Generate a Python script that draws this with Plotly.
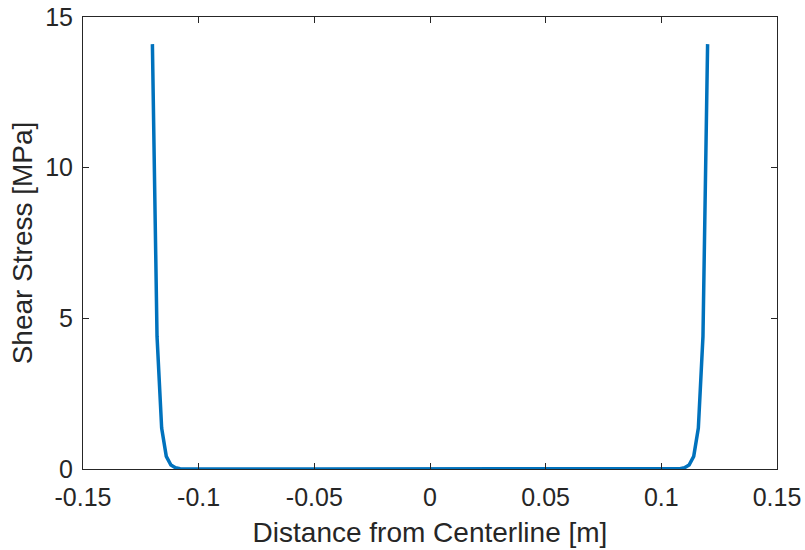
import plotly.graph_objects as go

# Distance from centerline [m]
x_vals = [-0.120, -0.118, -0.116, -0.114, -0.112, -0.110, -0.108, -0.106, -0.104,
          -0.100, -0.050, 0.000, 0.050, 0.100,
          0.104, 0.106, 0.108, 0.110, 0.112, 0.114, 0.116, 0.118, 0.120]
# Shear stress [MPa]
stress = [14.1, 4.4, 1.36, 0.42, 0.13, 0.04, 0.012, 0.004, 0.001,
          0.0, 0.0, 0.0, 0.0, 0.0,
          0.001, 0.004, 0.012, 0.04, 0.13, 0.42, 1.36, 4.4, 14.1]

x_ticks = [-0.15, -0.1, -0.05, 0, 0.05, 0.1, 0.15]
x_tick_labels = ["-0.15", "-0.1", "-0.05", "0", "0.05", "0.1", "0.15"]
y_ticks = [0, 5, 10, 15]
y_tick_labels = ["0", "5", "10", "15"]

axis_color = "#262626"
font_family = "Liberation Sans, Arial, sans-serif"

fig = go.Figure()
fig.add_trace(go.Scatter(x=x_vals, y=stress, mode="lines",
                         line=dict(color="#0072BD", width=3.5),
                         showlegend=False))

common = dict(showgrid=False, zeroline=False, showline=True, linecolor=axis_color,
              linewidth=1, mirror="allticks", ticks="inside", ticklen=6,
              tickcolor=axis_color, tickwidth=1,
              tickfont=dict(family=font_family, size=25, color=axis_color))

fig.update_xaxes(range=[-0.15, 0.15], tickvals=x_ticks, ticktext=x_tick_labels,
                 ticklabelstandoff=6,
                 title=dict(text="Distance from Centerline [m]", standoff=12,
                            font=dict(family=font_family, size=28, color=axis_color)),
                 **common)
fig.update_yaxes(range=[0, 15], tickvals=y_ticks, ticktext=y_tick_labels,
                 ticklabelstandoff=4,
                 title=dict(text="Shear Stress [MPa]", standoff=4,
                            font=dict(family=font_family, size=28, color=axis_color)),
                 **common)

fig.update_layout(width=805, height=550,
                  margin=dict(l=83, r=28, t=17, b=81, autoexpand=False),
                  paper_bgcolor="white", plot_bgcolor="white")

fig.write_html("out.html")
